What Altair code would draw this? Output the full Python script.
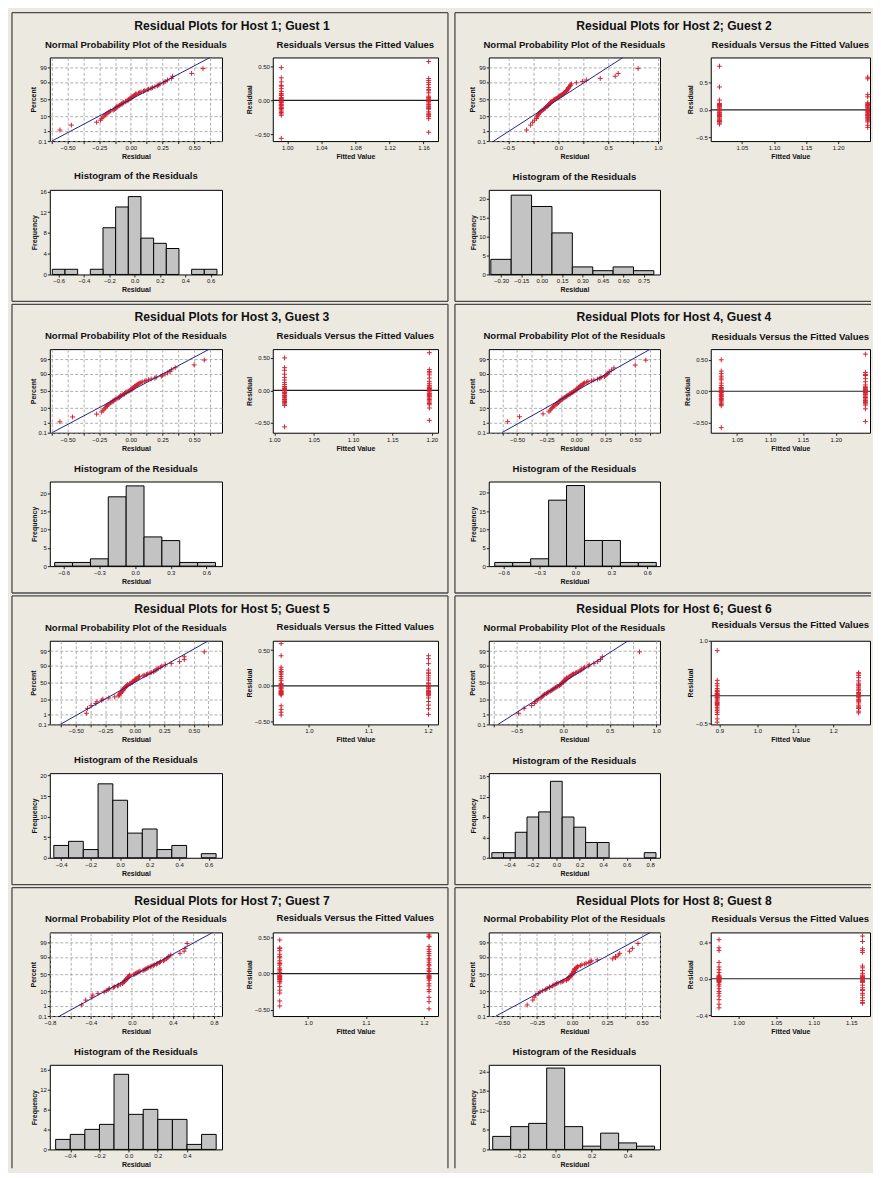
import altair as alt
import pandas as pd
from statistics import NormalDist, mean, stdev

# ------------------------------------------------------------------ data
PANEL_TITLES = [
    "Residual Plots for Host 1; Guest 1", "Residual Plots for Host 2; Guest 2",
    "Residual Plots for Host 3, Guest 3", "Residual Plots for Host 4, Guest 4",
    "Residual Plots for Host 5; Guest 5", "Residual Plots for Host 6; Guest 6",
    "Residual Plots for Host 7; Guest 7", "Residual Plots for Host 8; Guest 8",
]

P1_FIT = [0.993, 1.166]
P1_G1 = [0.48, -0.56, -0.22, -0.18, -0.20, -0.16, -0.14, -0.12, -0.10, -0.08, -0.06, -0.11, -0.07, -0.04, -0.02,
         0.00, 0.02, 0.04, 0.01, -0.03, 0.03, 0.07, 0.10, 0.13, 0.08, 0.17, 0.22, 0.27, 0.33, 0.21]
P1_G2 = [0.57, -0.47, -0.27, -0.24, -0.21, -0.19, -0.17, -0.23, -0.13, -0.11, -0.09, -0.07, -0.06, -0.12, -0.04,
         -0.01, 0.01, 0.03, 0.04, -0.02, 0.00, 0.06, 0.11, 0.14, 0.16, 0.19, 0.23, 0.26, 0.29, 0.32]

P2_FIT = [1.015, 1.246]
P2_G1 = [-0.26, -0.24, -0.22, -0.20, -0.19, -0.17, -0.15, -0.13, -0.12, -0.10, -0.09, -0.08, -0.21, -0.07, -0.05,
         -0.04, -0.02, 0.00, 0.01, 0.03, 0.05, 0.06, 0.08, 0.09, 0.10, 0.11, 0.12, 0.18, 0.42, 0.80]
P2_G2 = [-0.32, -0.28, -0.22, -0.18, -0.16, -0.14, -0.13, -0.11, -0.10, -0.09, -0.08, -0.20, -0.06, -0.05, -0.03,
         -0.01, 0.00, 0.02, 0.04, 0.05, 0.07, 0.08, 0.09, 0.10, 0.12, 0.13, 0.24, 0.28, 0.57, 0.60]

P3_FIT = [1.013, 1.197]
P3_G1 = [-0.56, -0.23, -0.21, -0.19, -0.17, -0.15, -0.13, -0.11, -0.09, -0.08, -0.14, -0.19, -0.07, -0.05, -0.03,
         -0.01, 0.00, 0.02, 0.03, 0.05, 0.06, -0.04, 0.01, 0.09, 0.12, 0.16, 0.20, 0.25, 0.31, 0.35, 0.50]
P3_G2 = [-0.46, -0.27, -0.22, -0.20, -0.18, -0.16, -0.14, -0.12, -0.10, -0.09, -0.08, -0.06, -0.04, -0.02, 0.00,
         0.01, 0.03, 0.04, 0.05, 0.07, -0.05, 0.02, 0.08, 0.11, 0.14, 0.19, 0.24, 0.27, 0.29, 0.32, 0.58]

P4_FIT = [1.026, 1.245]
P4_G1 = [-0.58, -0.23, -0.21, -0.19, -0.17, -0.15, -0.13, -0.11, -0.09, -0.08, -0.12, -0.07, -0.05, -0.03, -0.01,
         0.00, 0.02, 0.04, 0.05, 0.06, -0.02, 0.01, 0.09, 0.13, 0.18, 0.21, 0.24, 0.28, 0.32, 0.50]
P4_G2 = [-0.48, -0.28, -0.22, -0.20, -0.18, -0.16, -0.14, -0.12, -0.10, -0.08, -0.15, -0.06, -0.04, -0.02, 0.00,
         0.01, 0.03, 0.04, 0.06, 0.07, -0.05, 0.02, 0.10, 0.15, 0.20, 0.25, 0.27, 0.30, 0.26, 0.59]

P5_FIT = [0.953, 1.201]
P5_G1 = [-0.41, -0.37, -0.33, -0.28, -0.12, -0.10, -0.09, -0.08, -0.07, -0.06, -0.11, -0.13, -0.10, -0.04, -0.02,
         0.00, 0.01, 0.03, -0.03, 0.02, 0.07, 0.10, 0.13, 0.16, 0.18, 0.20, 0.23, 0.26, 0.42, 0.59]
P5_G2 = [-0.40, -0.32, -0.27, -0.22, -0.17, -0.14, -0.12, -0.11, -0.09, -0.08, -0.07, -0.06, -0.13, -0.10, -0.04,
         -0.01, 0.01, 0.03, 0.04, -0.02, 0.00, 0.08, 0.11, 0.14, 0.17, 0.19, 0.22, 0.31, 0.38, 0.42]

P6_FIT = [0.894, 1.267]
P6_G1 = [-0.48, -0.42, -0.34, -0.30, -0.27, -0.24, -0.21, -0.18, -0.16, -0.14, -0.11, -0.08, -0.06, -0.12, -0.04,
         -0.02, 0.00, 0.02, 0.04, -0.03, 0.01, 0.03, 0.07, 0.10, 0.13, 0.08, 0.18, 0.22, 0.28, 0.82]
P6_G2 = [-0.31, -0.28, -0.23, -0.20, -0.17, -0.22, -0.13, -0.10, -0.07, -0.09, -0.04, -0.01, 0.01, 0.03, -0.02,
         0.00, 0.04, 0.06, 0.11, 0.14, 0.09, 0.16, 0.20, 0.23, 0.19, 0.27, 0.33, 0.37, 0.42, 0.40]

P7_FIT = [0.951, 1.209]
P7_G1 = [-0.45, -0.38, -0.27, -0.23, -0.18, -0.13, -0.09, -0.08, -0.06, -0.05, -0.04, -0.03, -0.02, -0.07, 0.02,
         0.04, 0.06, 0.08, 0.12, 0.15, 0.18, 0.14, 0.22, 0.27, 0.24, 0.32, 0.36, 0.47, -0.11, 0.35]
P7_G2 = [-0.49, -0.33, -0.39, -0.25, -0.22, -0.17, -0.14, -0.09, -0.07, -0.06, -0.05, -0.03, -0.02, -0.04, 0.03,
         0.05, 0.07, 0.11, 0.13, 0.16, 0.19, 0.21, 0.25, 0.28, 0.31, 0.34, 0.38, 0.51, 0.52, 0.54]

P8_FIT = [0.974, 1.165]
P8_G1 = [-0.32, -0.28, -0.23, -0.19, -0.16, -0.14, -0.11, -0.08, -0.06, -0.04, -0.03, -0.02, -0.01, 0.00, 0.00,
         0.01, 0.01, 0.02, 0.02, 0.03, 0.04, -0.02, 0.00, 0.07, 0.10, 0.13, 0.18, 0.31, 0.34, 0.43]
P8_G2 = [-0.27, -0.26, -0.24, -0.21, -0.18, -0.16, -0.13, -0.10, -0.07, -0.12, -0.04, -0.03, -0.01, 0.00, 0.01,
         0.02, 0.03, 0.04, -0.02, 0.01, 0.02, 0.06, 0.09, 0.12, 0.14, 0.29, 0.31, 0.33, 0.41, 0.47]

PCT_LABELS = ["0.1", "1", "10", "50", "90", "99", "99.9"]
PCT_VALUES = [0.1, 1, 10, 50, 90, 99, 99.9]

# ------------------------------------------------------------------ styling / axes per panel
BG = "#ECE9E1"
RED = "#D42330"
NAVY = "#22228A"
BAR = "#C3C3C3"
GRID = "#9A9A9A"
FRAME = "#4A4A4A"
FONT = "Liberation Sans"
PLUS = "M-1,0L1,0M0,-1L0,1"

ND = NormalDist()
ZMAX = ND.inv_cdf(0.999)
ZTICKS = [ND.inv_cdf(p / 100) for p in PCT_VALUES]
Y_LABEL_EXPR = " : ".join(
    f"datum.value < {((ZTICKS[i] + ZTICKS[i + 1]) / 2):.4f} ? '{PCT_LABELS[i]}'" for i in range(6)
) + f" : '{PCT_LABELS[6]}'"

Q = [-0.5, -0.25, 0, 0.25, 0.5]
AXES = [
    dict(nd=[-0.64, 0.72], nmaj=0.25, nmin=0.125, nf=".2f",
         rx=[0.983, 1.177], rxt=[1.00, 1.04, 1.08, 1.12, 1.16], rxf=".2f", ry=[-0.60, 0.63], ryt=Q, ryf=".2f",
         he=[-0.65, 0.65], hs=0.1, hd=[-0.67, 0.69], hxt=[-0.6, -0.4, -0.2, 0, 0.2, 0.4, 0.6], hxf=".1f",
         hy=[0, 16.3], hyt=[0, 4, 8, 12, 16]),
    dict(nd=[-0.70, 1.02], nmaj=0.5, nmin=0.25, nf=".1f",
         rx=[1.0014, 1.2496], rxt=[1.05, 1.10, 1.15, 1.20], rxf=".2f", ry=[-0.57, 0.96], ryt=[-0.5, 0, 0.5], ryf=".1f",
         he=[-0.375, 0.825], hs=0.15, hd=[-0.39, 0.87], hxt=[-0.30, -0.15, 0, 0.15, 0.30, 0.45, 0.60, 0.75], hxf=".2f",
         hy=[0, 22.4], hyt=[0, 5, 10, 15, 20]),
    dict(nd=[-0.64, 0.72], nmaj=0.25, nmin=0.125, nf=".2f",
         rx=[0.998, 1.208], rxt=[1.00, 1.05, 1.10, 1.15, 1.20], rxf=".2f", ry=[-0.65, 0.635], ryt=Q, ryf=".2f",
         he=[-0.675, 0.675], hs=0.15, hd=[-0.716, 0.73], hxt=[-0.6, -0.3, 0, 0.3, 0.6], hxf=".1f",
         hy=[0, 23.2], hyt=[0, 5, 10, 15, 20]),
    dict(nd=[-0.74, 0.71], nmaj=0.25, nmin=0.125, nf=".2f",
         rx=[1.010, 1.252], rxt=[1.05, 1.10, 1.15, 1.20], rxf=".2f", ry=[-0.66, 0.67], ryt=Q, ryf=".2f",
         he=[-0.675, 0.675], hs=0.15, hd=[-0.725, 0.706], hxt=[-0.6, -0.3, 0, 0.3, 0.6], hxf=".1f",
         hy=[0, 23.1], hyt=[0, 5, 10, 15, 20]),
    dict(nd=[-0.72, 0.74], nmaj=0.25, nmin=0.125, nf=".2f",
         rx=[0.939, 1.217], rxt=[1.0, 1.1, 1.2], rxf=".1f", ry=[-0.54, 0.63], ryt=Q, ryf=".2f",
         he=[-0.45, 0.65], hs=0.1, hd=[-0.477, 0.69], hxt=[-0.4, -0.2, 0, 0.2, 0.4, 0.6], hxf=".1f",
         hy=[0, 20.6], hyt=[0, 5, 10, 15, 20]),
    dict(nd=[-0.80, 1.04], nmaj=0.5, nmin=0.25, nf=".1f",
         rx=[0.877, 1.297], rxt=[0.9, 1.0, 1.1, 1.2], rxf=".1f", ry=[-0.52, 1.0], ryt=[-0.5, 0, 0.5, 1.0], ryf=".1f",
         he=[-0.55, 0.85], hs=0.1, hd=[-0.576, 0.884], hxt=[-0.4, -0.2, 0, 0.2, 0.4, 0.6, 0.8], hxf=".1f",
         hy=[0, 16.6], hyt=[0, 4, 8, 12, 16]),
    dict(nd=[-0.80, 0.88], nmaj=0.4, nmin=0.2, nf=".1f",
         rx=[0.939, 1.2245], rxt=[1.0, 1.1, 1.2], rxf=".1f", ry=[-0.59, 0.575], ryt=Q, ryf=".2f",
         he=[-0.5, 0.6], hs=0.1, hd=[-0.54, 0.64], hxt=[-0.4, -0.2, 0, 0.2, 0.4], hxf=".1f",
         hy=[0, 16.9], hyt=[0, 4, 8, 12, 16]),
    dict(nd=[-0.594, 0.627], nmaj=0.25, nmin=0.125, nf=".2f",
         rx=[0.963, 1.175], rxt=[1.00, 1.05, 1.10, 1.15], rxf=".2f", ry=[-0.41, 0.51], ryt=[-0.4, -0.2, 0, 0.2, 0.4], ryf=".1f",
         he=[-0.35, 0.55], hs=0.1, hd=[-0.372, 0.58], hxt=[-0.2, 0, 0.2, 0.4], hxf=".1f",
         hy=[0, 26.0], hyt=[0, 6, 12, 18, 24]),
]

GROUPS = [
    (P1_FIT, P1_G1, P1_G2), (P2_FIT, P2_G1, P2_G2), (P3_FIT, P3_G1, P3_G2), (P4_FIT, P4_G1, P4_G2),
    (P5_FIT, P5_G1, P5_G2), (P6_FIT, P6_G1, P6_G2), (P7_FIT, P7_G1, P7_G2), (P8_FIT, P8_G1, P8_G2),
]

VIEW = alt.ViewBackground(fill="white", stroke="black", strokeWidth=1)
ONE = pd.DataFrame({"a": [0]})
W_NPP = [173, 172]
W_RVF = [166, 160]
H_PLOT = 84
H_HIST = 85
ROW_GAP = 49
PITCH = 293
SUB_FS = 9.6
SUB_T = dict(font=FONT, fontSize=SUB_FS, fontWeight="bold", color="#111", offset=8, anchor="middle")


def sc(dom):
    return alt.Scale(domain=dom, nice=False, zero=False)


def axis(**kw):
    return alt.Axis(labelOverlap=False, labelFlush=False, **kw)


def edge(x, y, x2=None, y2=None):
    enc = dict(x=alt.value(x), y=alt.value(y))
    if x2 is not None:
        enc["x2"] = alt.value(x2)
    if y2 is not None:
        enc["y2"] = alt.value(y2)
    return alt.Chart(ONE).mark_rule(color=FRAME, strokeWidth=1.3).encode(**enc)


def label(text, x, y, size, w="bold"):
    return alt.Chart(ONE).mark_text(
        text=text, font=FONT, fontSize=size, fontWeight=w, color="#111", align="center", baseline="middle"
    ).encode(x=alt.value(x), y=alt.value(y))


def npp_chart(i, side, last_row):
    ax = AXES[i]
    fit, g1, g2 = GROUPS[i]
    r = g1 + g2
    m, s = mean(r), stdev(r)
    df = pd.DataFrame({"r": r})
    line_df = pd.DataFrame({"r": [m - s * ZMAX, m + s * ZMAX], "z": [-ZMAX, ZMAX]})
    lo, hi = ax["nd"]
    k0 = int(lo / ax["nmin"]) - 1
    k1 = int(hi / ax["nmin"]) + 1
    gvals = [round(k * ax["nmin"], 4) for k in range(k0, k1 + 1) if lo <= k * ax["nmin"] <= hi]
    maj = ax["nmaj"]
    lab = f"abs(datum.value / {maj} - round(datum.value / {maj})) < 0.001 ? format(datum.value, '{ax['nf']}') : ''"
    xaxis = axis(values=gvals, labelExpr=lab, title="Residual", grid=True, gridDash=[3, 2],
                 gridColor=GRID, gridWidth=0.8)
    yaxis = axis(values=ZTICKS, labelExpr=Y_LABEL_EXPR, title="Percent", grid=True, gridDash=[3, 2],
                 gridColor=GRID, gridWidth=0.8)
    X = alt.X("r:Q", scale=sc(ax["nd"]), axis=xaxis)
    Y = alt.Y("z:Q", scale=sc([-ZMAX, ZMAX]), axis=yaxis)
    pts = alt.Chart(df).transform_window(
        rank="row_number()", sort=[alt.SortField("r", order="ascending")]
    ).transform_joinaggregate(n="count()").transform_calculate(
        z="quantileNormal((datum.rank - 0.3) / (datum.n + 0.4))"
    ).mark_point(shape=PLUS, size=24, color=RED, strokeWidth=1, opacity=1).encode(x=X, y=Y)
    ln = alt.Chart(line_df).mark_line(color=NAVY, strokeWidth=1, clip=True).encode(x=X, y=Y)
    w = W_NPP[side]
    top, bot = -45, (237 if last_row else 245)
    if side == 0:
        xl, xr = -38, 400
    else:
        xl, xr = -34, 384
    layers = [edge(xl, top, y2=bot), edge(xl, top, x2=xr)]
    if side == 0:
        layers.append(edge(xr, top, y2=bot))
    if not last_row:
        layers.append(edge(xl, bot, x2=xr))
    layers += [
        pts, ln,
        label(PANEL_TITLES[i], 183 if side == 0 else 186, -32, 12.2),
        label("Normal Probability Plot of the Residuals", w / 2, -13, SUB_FS),
    ]
    return alt.layer(*layers).properties(width=w, height=H_PLOT, view=VIEW)


def rvf_chart(i, side):
    ax = AXES[i]
    fit, g1, g2 = GROUPS[i]
    df = pd.DataFrame({"fit": [fit[0]] * len(g1) + [fit[1]] * len(g2), "r": g1 + g2})
    pts = alt.Chart(df).mark_point(shape=PLUS, size=24, color=RED, strokeWidth=1, opacity=1).encode(
        x=alt.X("fit:Q", scale=sc(ax["rx"]), axis=axis(values=ax["rxt"], format=ax["rxf"], title="Fitted Value")),
        y=alt.Y("r:Q", scale=sc(ax["ry"]), axis=axis(values=ax["ryt"], format=ax["ryf"], title="Residual")),
    )
    zero = alt.Chart(ONE).mark_rule(color="#222", strokeWidth=1.2).encode(y=alt.datum(0))
    return alt.layer(zero, pts).properties(
        width=W_RVF[side], height=H_PLOT, view=VIEW,
        title=alt.TitleParams("Residuals Versus the Fitted Values", **SUB_T)
    )


def hist_chart(i, side):
    ax = AXES[i]
    fit, g1, g2 = GROUPS[i]
    df = pd.DataFrame({"r": g1 + g2})
    return alt.Chart(df).transform_bin(
        as_=["b0", "b1"], field="r", bin=alt.Bin(extent=ax["he"], step=ax["hs"], nice=False)
    ).transform_aggregate(n="count()", groupby=["b0", "b1"]).mark_rect(
        fill=BAR, stroke="black", strokeWidth=1
    ).encode(
        x=alt.X("b0:Q", scale=sc(ax["hd"]), axis=axis(values=ax["hxt"], format=ax["hxf"], title="Residual")),
        x2="b1:Q",
        y=alt.Y("n:Q", scale=alt.Scale(domain=ax["hy"], nice=False, zero=True),
                axis=axis(values=ax["hyt"], title="Frequency")),
        y2=alt.datum(0),
    ).properties(width=W_NPP[side], height=H_HIST, view=VIEW,
                 title=alt.TitleParams("Histogram of the Residuals", **SUB_T))


def spacer(h):
    return alt.Chart(ONE).mark_point(opacity=0).encode(x=alt.value(0), y=alt.value(0)).properties(width=1, height=h)


cells = []
for row in range(4):
    last = row == 3
    li, ri = 2 * row, 2 * row + 1
    cells += [npp_chart(li, 0, last), rvf_chart(li, 0), npp_chart(ri, 1, last), rvf_chart(ri, 1)]
    h = 1 if last else PITCH - H_PLOT - 2 * ROW_GAP
    cells += [hist_chart(li, 0), spacer(h), hist_chart(ri, 1), spacer(h)]

chart = alt.concat(
    *cells, columns=4, spacing={"row": ROW_GAP, "column": 51}, bounds="flush", align="each"
).properties(
    padding={"left": 2, "top": 0, "right": 0, "bottom": 0}, background=BG
).configure_view(stroke="transparent").configure_axis(
    labelFont=FONT, labelFontSize=6, labelColor="#111", titleFont=FONT, titleFontSize=7,
    titleFontWeight="bold", titleColor="#111", domain=False, tickColor="#222", tickSize=2.5,
    labelPadding=1, titlePadding=2, grid=False, labelOverlap=False
)

chart.save("out.html", embed_options={"renderer": "svg", "actions": False})
